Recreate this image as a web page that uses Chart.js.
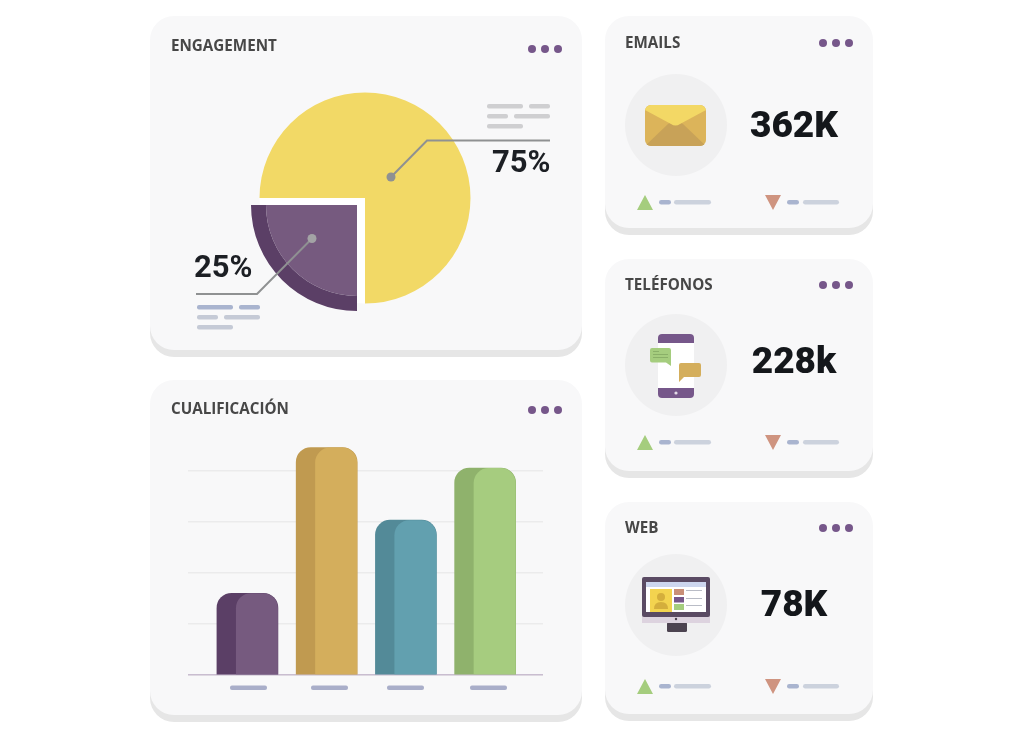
<!DOCTYPE html>
<html lang="es">
<head>
<meta charset="utf-8">
<title>Dashboard</title>
<script src="https://cdn.jsdelivr.net/npm/chart.js@4"></script>
<style>
  html, body { margin: 0; padding: 0; background: #fff; }
  body { width: 1024px; height: 736px; position: relative; overflow: hidden; }
  .card { position: absolute; background: #f8f8f9; border-radius: 24px; box-shadow: 0 7px 0 #e6e6e6; }
  .title, .pct, .kpi { position: absolute; white-space: nowrap; line-height: 40px; height: 40px; }
  .title { font: 700 15.2px/40px "Open Sans", sans-serif; color: #474747; }
  .pct { font: 700 31px/40px Roboto, sans-serif; color: #1c1f24; }
  .kpi { font: 900 37px/40px Roboto, sans-serif; color: #14171b; width: 160px; text-align: center; left: 714px; }
  canvas { position: absolute; }
  svg { position: absolute; left: 0; top: 0; }
</style>
</head>
<body>
  <div class="card" style="left:150px;top:16px;width:432px;height:334px"></div>
  <div class="card" style="left:150px;top:380px;width:432px;height:335px"></div>
  <div class="card" style="left:605px;top:16px;width:268px;height:212px"></div>
  <div class="card" style="left:605px;top:259px;width:268px;height:212px"></div>
  <div class="card" style="left:605px;top:502px;width:268px;height:212px"></div>

  <canvas id="pieMain" width="240" height="240" style="left:245px;top:78px"></canvas>
  <canvas id="pieSlice" width="240" height="240" style="left:237px;top:85px"></canvas>
  <canvas id="bars" width="355" height="232" style="left:188px;top:445px"></canvas>

  <svg width="1024" height="736" viewBox="0 0 1024 736">
    <defs>
      <g id="dots" fill="#76578a"><circle cx="0" cy="0" r="4"/><circle cx="13" cy="0" r="4"/><circle cx="26" cy="0" r="4"/></g>
      <g id="foot">
        <path d="M637 15 L645 0 L653 15 Z" fill="#a5cd7e"/>
        <path d="M765 0 H781 L773 15 Z" fill="#cf9480"/>
        <rect x="659" y="5" width="12" height="4.5" rx="2.2" fill="#a9b4cf"/>
        <rect x="674" y="5" width="37" height="4.5" rx="2.2" fill="#ccd2dd"/>
        <rect x="787" y="5" width="12" height="4.5" rx="2.2" fill="#a9b4cf"/>
        <rect x="803" y="5" width="36" height="4.5" rx="2.2" fill="#ccd2dd"/>
      </g>
      <clipPath id="envClip"><rect x="645" y="105" width="61" height="41" rx="6"/></clipPath>
    </defs>

    <use href="#dots" x="532" y="49"/>
    <use href="#dots" x="532" y="410"/>
    <use href="#dots" x="823" y="43"/>
    <use href="#dots" x="823" y="285"/>
    <use href="#dots" x="823" y="528"/>

    <!-- leader lines -->
    <g fill="none" stroke="#8f9192" stroke-width="2">
      <path d="M391 177 L427 140.5 H550"/>
      <path d="M312 238.5 L257 294 H196"/>
    </g>
    <circle cx="391" cy="177" r="4.5" fill="#8f9192"/>
    <circle cx="312" cy="238.5" r="4.5" fill="#a3a3a5"/>

    <!-- placeholder text -->
    <g fill="#cfcfd1">
      <rect x="487" y="104" width="36" height="4.5" rx="2"/><rect x="529" y="104" width="21" height="4.5" rx="2"/>
      <rect x="487" y="114" width="21" height="4.5" rx="2"/><rect x="514" y="114" width="36" height="4.5" rx="2"/>
      <rect x="487" y="124" width="36" height="4.5" rx="2"/>
    </g>
    <g fill="#c5cad6">
      <rect x="197" y="305" width="36" height="4.5" rx="2" fill="#a9b4cf"/><rect x="239" y="305" width="21" height="4.5" rx="2" fill="#a9b4cf"/>
      <rect x="197" y="315" width="21" height="4.5" rx="2"/><rect x="224" y="315" width="36" height="4.5" rx="2"/>
      <rect x="197" y="325" width="36" height="4.5" rx="2"/>
    </g>
    <g fill="#a9aec9">
      <rect x="230" y="685.5" width="37" height="4.5" rx="2"/>
      <rect x="311" y="685.5" width="37" height="4.5" rx="2"/>
      <rect x="387" y="685.5" width="37" height="4.5" rx="2"/>
      <rect x="470" y="685.5" width="37" height="4.5" rx="2"/>
    </g>

    <!-- icon discs -->
    <g fill="#f0f0f1">
      <circle cx="676" cy="125" r="51"/><circle cx="676" cy="365" r="51"/><circle cx="676" cy="605" r="51"/>
    </g>

    <!-- envelope -->
    <g clip-path="url(#envClip)">
      <rect x="645" y="105" width="61" height="41" fill="#dcb45a"/>
      <path d="M645 146 L668 124 Q675.5 118 683 124 L706 146 Z" fill="#c8a258"/>
      <path d="M645 105 H706 V110 L680 124 Q675.5 127 671 124 L645 110 Z" fill="#f3d865"/>
    </g>

    <!-- phone -->
    <rect x="658" y="334" width="36" height="64" rx="4" fill="#fff"/>
    <path d="M658 343 V338 Q658 334 662 334 H690 Q694 334 694 338 V343 Z" fill="#76578a"/>
    <path d="M658 388 V394 Q658 398 662 398 H690 Q694 398 694 394 V388 Z" fill="#76578a"/>
    <circle cx="676" cy="393" r="1.6" fill="#e4dce8"/>
    <path d="M652 348 H669 Q671 348 671 350 V366 L666 362.5 H652 Q650 362.5 650 360.5 V350 Q650 348 652 348 Z" fill="#a5cd7e"/>
    <g fill="#8ab068"><rect x="653" y="351" width="6" height="1"/><rect x="653" y="354" width="15" height="1"/><rect x="653" y="357" width="15" height="1"/></g>
    <path d="M681 363 H699 Q701 363 701 365 V375 Q701 377 699 377 H684 L679 382 V365 Q679 363 681 363 Z" fill="#d4ae5c"/>

    <!-- monitor -->
    <rect x="667" y="622" width="20" height="10" rx="1.5" fill="#4c4350"/>
    <rect x="642" y="612" width="68" height="11" fill="#ddd3df"/>
    <rect x="642" y="577" width="68" height="40" rx="2" fill="#5a4a63"/>
    <rect x="646" y="582" width="60" height="30" fill="#fff"/>
    <rect x="646" y="582" width="60" height="5" fill="#cdd6ee"/>
    <rect x="650" y="589" width="22" height="23" fill="#f3d34f"/>
    <circle cx="661" cy="597" r="4" fill="#d4ae3c"/>
    <path d="M654 609 Q654 602 661 602 Q668 602 668 609 Z" fill="#d4ae3c"/>
    <rect x="674" y="589" width="10" height="6" fill="#c98f78"/>
    <rect x="674" y="597" width="10" height="5.5" fill="#76578a"/>
    <rect x="674" y="604" width="10" height="6" fill="#a5cd7e"/>
    <g fill="#b9bcc6"><rect x="686" y="590" width="16" height="1"/><rect x="686" y="598" width="16" height="1"/><rect x="686" y="605" width="16" height="1"/></g>
    <circle cx="676" cy="619" r="1.2" fill="#4c4350"/>

    <use href="#foot" x="0" y="195"/>
    <use href="#foot" x="0" y="435"/>
    <use href="#foot" x="0" y="679"/>
  </svg>

  <div class="title" style="left:171px;top:25px">ENGAGEMENT</div>
  <div class="title" style="left:171px;top:388px">CUALIFICACIÓN</div>
  <div class="title" style="left:625px;top:22px">EMAILS</div>
  <div class="title" style="left:625px;top:264px">TELÉFONOS</div>
  <div class="title" style="left:625px;top:507px">WEB</div>
  <div class="pct" style="left:492px;top:142px">75%</div>
  <div class="pct" style="left:194px;top:247px">25%</div>
  <div class="kpi" style="top:105px">362K</div>
  <div class="kpi" style="top:341px">228k</div>
  <div class="kpi" style="top:584px">78K</div>

<script>
  "use strict";

  var pieLabels = ["Engagement", "Resto"];
  var pieValues = [75, 25];

  var barPositions = [1, 2, 3, 4];
  var barValues = [1.6, 4.45, 3.03, 4.05];
  var barSideColors = ["#5b3f66", "#c09a50", "#538a98", "#8fb26c"];
  var barFaceColors = ["#765a7f", "#d4ae5c", "#62a0af", "#a6cc7f"];
  var gridTicks = [0, 1, 2, 3, 4];

  Chart.defaults.animation = false;
  Chart.defaults.responsive = false;
  Chart.defaults.plugins.legend.display = false;
  Chart.defaults.plugins.tooltip.enabled = false;

  // yellow 75%, the other quarter stays white and shows as the gap round the slice
  new Chart(document.getElementById("pieMain"), {
    type: "pie",
    data: {
      labels: pieLabels,
      datasets: [{ data: pieValues, backgroundColor: ["#f2d966", "#ffffff"], borderWidth: 0 }]
    },
    options: { rotation: -90, radius: 105.5 }
  });

  // pulled-out slice, dark rim + lighter inside
  new Chart(document.getElementById("pieSlice"), {
    type: "pie",
    data: {
      labels: pieLabels,
      datasets: [
        { data: pieValues, backgroundColor: ["transparent", "#5b3f66"], borderWidth: 0, weight: 15 },
        { data: pieValues, backgroundColor: ["transparent", "#765a7f"], borderWidth: 0, weight: 91 }
      ]
    },
    options: { rotation: -90, radius: 106 }
  });

  // lighter front face of each bar, taken from the bar element itself
  var barFace = {
    id: "barFace",
    afterDatasetsDraw: function (chart) {
      var ctx = chart.ctx;
      chart.getDatasetMeta(0).data.forEach(function (bar, i) {
        var left = bar.x - bar.width / 2 + 19;
        var right = bar.x + bar.width / 2;
        ctx.save();
        ctx.fillStyle = barFaceColors[i];
        ctx.beginPath();
        ctx.roundRect(left, bar.y, right - left, bar.base - bar.y, [15, 15, 0, 0]);
        ctx.fill();
        ctx.restore();
      });
    }
  };

  new Chart(document.getElementById("bars"), {
    type: "bar",
    data: {
      datasets: [{
        data: barPositions.map(function (p, i) { return { x: p, y: barValues[i] }; }),
        backgroundColor: barSideColors,
        barThickness: 61,
        borderRadius: { topLeft: 15, topRight: 15, bottomLeft: 0, bottomRight: 0 },
        borderSkipped: false
      }]
    },
    plugins: [barFace],
    options: {
      layout: { padding: { bottom: 2 } },
      scales: {
        x: {
          type: "linear",
          offset: false,
          min: 0.25,
          max: 4.73,
          ticks: { display: false },
          grid: { display: false, drawTicks: false },
          border: { color: "#c9bdd0", width: 1.5 },
          afterFit: function (scale) { scale.height = 0; }
        },
        y: {
          min: 0,
          max: 4.5,
          afterBuildTicks: function (scale) {
            scale.ticks = gridTicks.map(function (v) { return { value: v }; });
          },
          ticks: { display: false },
          border: { display: false },
          grid: { color: "#ebebec", lineWidth: 1.5, drawTicks: false },
          afterFit: function (scale) { scale.width = 0; }
        }
      }
    }
  });
</script>
</body>
</html>
